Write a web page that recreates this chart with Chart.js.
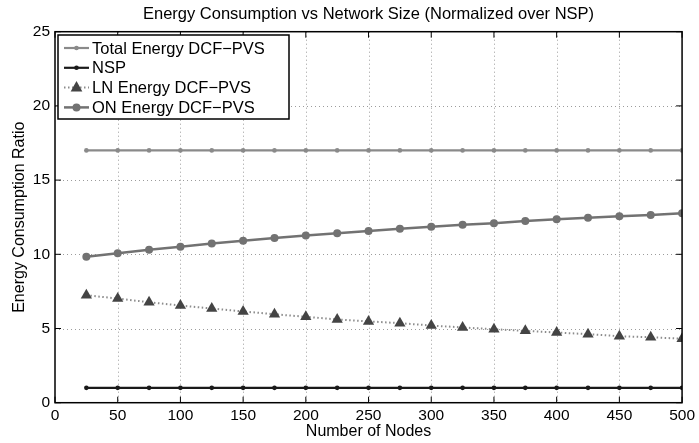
<!DOCTYPE html>
<html>
<head>
<meta charset="utf-8">
<script src="https://cdn.jsdelivr.net/npm/chart.js@4"></script>
<style>
  html, body { margin: 0; padding: 0; background: #fff; }
  #wrap { width: 699px; height: 443px; }
</style>
</head>
<body>
<div id="wrap"><canvas id="chart" width="699" height="443"></canvas></div>
<script>
// values
const nodes = [25, 50, 75, 100, 125, 150, 175, 200, 225, 250, 275, 300, 325, 350, 375, 400, 425, 450, 475, 500];
const totalEnergy = [17, 17, 17, 17, 17, 17, 17, 17, 17, 17, 17, 17, 17, 17, 17, 17, 17, 17, 17, 17];
const nspEnergy = [1, 1, 1, 1, 1, 1, 1, 1, 1, 1, 1, 1, 1, 1, 1, 1, 1, 1, 1, 1];
const lnEnergy = [7.24, 7.02, 6.77, 6.55, 6.35, 6.15, 5.96, 5.79, 5.61, 5.48, 5.36, 5.20, 5.07, 4.95, 4.84, 4.73, 4.62, 4.48, 4.41, 4.31];
const onEnergy = [9.84, 10.07, 10.31, 10.51, 10.72, 10.92, 11.10, 11.26, 11.42, 11.57, 11.72, 11.86, 11.99, 12.10, 12.24, 12.36, 12.47, 12.56, 12.65, 12.76];
const seriesLabels = ['Total Energy DCF\u2212PVS', 'NSP', 'LN Energy DCF\u2212PVS', 'ON Energy DCF\u2212PVS'];
const xTicks = [0, 50, 100, 150, 200, 250, 300, 350, 400, 450, 500];
const yTicks = [0, 5, 10, 15, 20, 25];
const chartTitle = 'Energy Consumption vs Network Size (Normalized over NSP)';

const FONT = '"Liberation Sans", Arial, Helvetica, sans-serif';

const toPoints = (vals) => vals.map((v, i) => ({ x: nodes[i], y: v }));

// dotted matlab grid, drawn under the lines
const gridPlugin = {
    id: 'dottedGrid',
    beforeDatasetsDraw(chart) {
        const { ctx, chartArea: a, scales } = chart;
        ctx.save();
        ctx.strokeStyle = '#9c9c9c';
        ctx.lineWidth = 1;
        ctx.setLineDash([1, 3]);
        ctx.beginPath();
        xTicks.slice(1, -1).forEach(t => {
            const px = Math.round(scales.x.getPixelForValue(t)) + 0.5;
            ctx.moveTo(px, a.top); ctx.lineTo(px, a.bottom);
        });
        yTicks.slice(1, -1).forEach(t => {
            const py = Math.round(scales.y.getPixelForValue(t)) + 0.5;
            ctx.moveTo(a.left, py); ctx.lineTo(a.right, py);
        });
        ctx.stroke();
        ctx.restore();
    }
};

// matlab style frame, inward ticks, title and boxed legend
const matlabPlugin = {
    id: 'matlabFrame',
    afterDraw(chart) {
        const { ctx, chartArea: a, scales } = chart;
        ctx.save();

        ctx.strokeStyle = '#000';
        ctx.lineWidth = 1.5;
        ctx.strokeRect(a.left, a.top, a.right - a.left, a.bottom - a.top);

        // inward tick marks on all four sides
        ctx.lineWidth = 1;
        const tl = 6;
        ctx.beginPath();
        xTicks.forEach(t => {
            const px = scales.x.getPixelForValue(t);
            ctx.moveTo(px, a.bottom); ctx.lineTo(px, a.bottom - tl);
            ctx.moveTo(px, a.top); ctx.lineTo(px, a.top + tl);
        });
        yTicks.forEach(t => {
            const py = scales.y.getPixelForValue(t);
            ctx.moveTo(a.left, py); ctx.lineTo(a.left + tl, py);
            ctx.moveTo(a.right, py); ctx.lineTo(a.right - tl, py);
        });
        ctx.stroke();

        // title
        ctx.fillStyle = '#000';
        ctx.font = '16.5px ' + FONT;
        ctx.textAlign = 'center';
        ctx.textBaseline = 'middle';
        ctx.fillText(chartTitle, (a.left + a.right) / 2, 14);

        // legend box
        const bx = 58, by = 35, bw = 231, bh = 84;
        ctx.fillStyle = '#fff';
        ctx.fillRect(bx, by, bw, bh);
        ctx.strokeStyle = '#000';
        ctx.lineWidth = 1.5;
        ctx.strokeRect(bx, by, bw, bh);

        ctx.font = '16.5px ' + FONT;
        ctx.textAlign = 'left';
        chart.data.datasets.forEach((ds, i) => {
            const y = by + 13 + i * 19.8;
            const x0 = bx + 6, x1 = bx + 31;
            ctx.save();
            ctx.strokeStyle = ds.borderColor;
            ctx.lineWidth = ds.borderWidth;
            ctx.setLineDash(ds.borderDash || []);
            ctx.beginPath();
            ctx.moveTo(x0, y); ctx.lineTo(x1, y);
            ctx.stroke();
            ctx.restore();
            // marker
            const mx = (x0 + x1) / 2;
            ctx.fillStyle = ds.pointBackgroundColor;
            ctx.beginPath();
            if (ds.pointStyle === 'triangle') {
                const r = ds.pointRadius;
                ctx.moveTo(mx, y - r);
                ctx.lineTo(mx + r * 0.9, y + r * 0.6);
                ctx.lineTo(mx - r * 0.9, y + r * 0.6);
                ctx.closePath();
            } else {
                ctx.arc(mx, y, ds.pointRadius, 0, Math.PI * 2);
            }
            ctx.fill();
            ctx.fillStyle = '#000';
            ctx.fillText(ds.label, x1 + 3, y + 1);
        });

        ctx.restore();
    }
};

new Chart(document.getElementById('chart'), {
    type: 'line',
    data: {
        datasets: [
            {
                label: seriesLabels[0],
                data: toPoints(totalEnergy),
                borderColor: '#8a8a8a',
                backgroundColor: '#8a8a8a',
                pointBackgroundColor: '#8a8a8a',
                pointBorderWidth: 0,
                borderWidth: 2.2,
                pointRadius: 2.3,
                pointStyle: 'circle'
            },
            {
                label: seriesLabels[1],
                data: toPoints(nspEnergy),
                borderColor: '#1a1a1a',
                backgroundColor: '#1a1a1a',
                pointBackgroundColor: '#1a1a1a',
                pointBorderWidth: 0,
                borderWidth: 2.2,
                pointRadius: 2.3,
                pointStyle: 'circle'
            },
            {
                label: seriesLabels[2],
                data: toPoints(lnEnergy),
                borderColor: '#8c8c8c',
                backgroundColor: '#444',
                pointBackgroundColor: '#444',
                pointBorderColor: '#444',
                pointBorderWidth: 0,
                borderWidth: 2,
                borderDash: [1.5, 2.5],
                pointRadius: 6.5,
                pointStyle: 'triangle'
            },
            {
                label: seriesLabels[3],
                data: toPoints(onEnergy),
                borderColor: '#727272',
                backgroundColor: '#727272',
                pointBackgroundColor: '#727272',
                pointBorderWidth: 0,
                borderWidth: 2.5,
                pointRadius: 4,
                pointStyle: 'circle'
            }
        ]
    },
    options: {
        responsive: false,
        animation: false,
        layout: { padding: { top: 31.7, right: 13.3, left: 0, bottom: 0 } },
        plugins: {
            legend: { display: false },
            title: { display: false },
            tooltip: { enabled: false }
        },
        scales: {
            x: {
                type: 'linear',
                min: 0,
                max: 500,
                afterBuildTicks: (s) => { s.ticks = xTicks.map(v => ({ value: v })); },
                afterFit: (s) => { s.height = 40.3; },
                grid: { display: false, drawTicks: false },
                border: { display: false },
                ticks: { color: '#000', font: { family: FONT, size: 15.5 }, padding: 4, maxRotation: 0 },
                title: { display: true, text: 'Number of Nodes', color: '#000', font: { family: FONT, size: 16 }, padding: { top: 0, bottom: 1.4 } }
            },
            y: {
                min: 0,
                max: 25,
                afterBuildTicks: (s) => { s.ticks = yTicks.map(v => ({ value: v })); },
                afterFit: (s) => { s.width = 55; },
                grid: { display: false, drawTicks: false },
                border: { display: false },
                ticks: { color: '#000', font: { family: FONT, size: 15.5 }, padding: 5 },
                title: { display: true, text: 'Energy Consumption Ratio', color: '#000', font: { family: FONT, size: 16 }, padding: { top: 10.4, bottom: 0 } }
            }
        }
    },
    plugins: [gridPlugin, matlabPlugin]
});
</script>
</body>
</html>
